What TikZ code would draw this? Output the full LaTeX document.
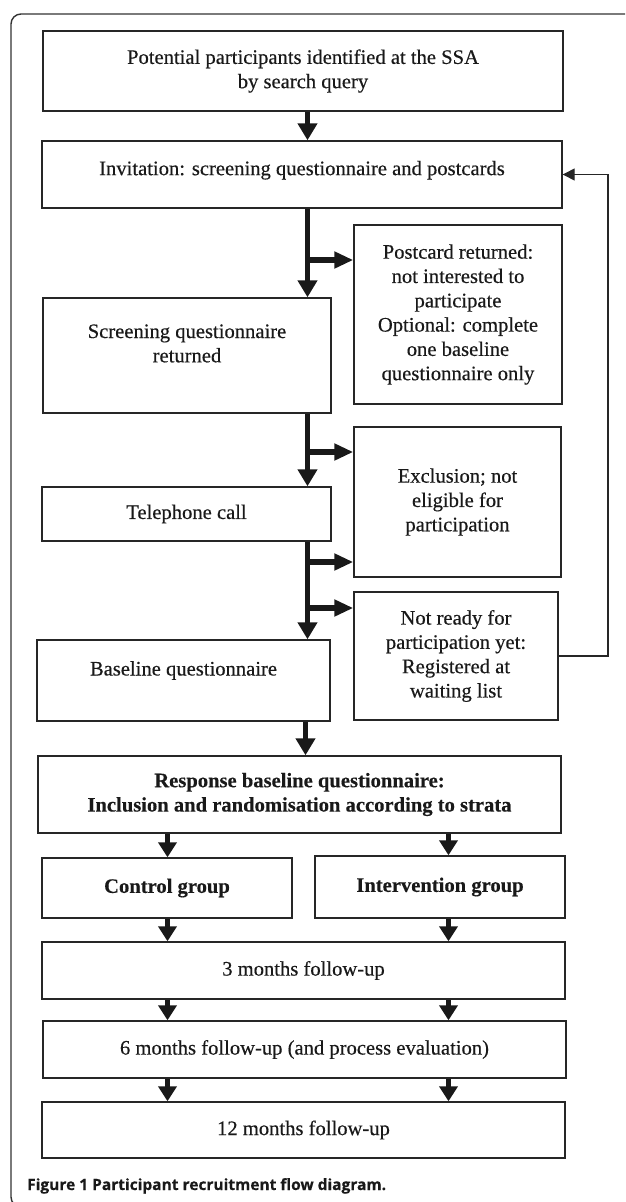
\documentclass[tikz,border=0pt]{standalone}
\usepackage{fontspec}
\setmainfont{Liberation Serif}[UprightFeatures={FakeBold=0.4},BoldFeatures={FakeBold=0.3}]
\newfontfamily\capfont{Open Sans}[BoldFeatures={FakeBold=0.4}]
\usetikzlibrary{arrows.meta}
\begin{document}
\begin{tikzpicture}[x=1pt,y=-1pt,
  box/.style={draw=black!85, line width=1.4pt, align=center, inner sep=0pt,
    font=\fontsize{20.6}{24.3}\selectfont, text=black!90},
  bbox/.style={box, font=\fontsize{20.6}{24.3}\selectfont\bfseries},
  bigarrow/.style={draw=black!90, line width=5.5pt, -{Triangle[width=19pt,length=17pt]}},
  sidearrow/.style={draw=black!90, line width=5.5pt, -{Triangle[width=16pt,length=19pt]}},
  smallarrow/.style={draw=black!90, line width=5.5pt, -{Triangle[width=18pt,length=15pt]}},
  backline/.style={draw=black!85, line width=1.4pt, -{Triangle[width=12pt,length=12pt]}},
  frame/.style={draw=black!80, line width=1.4pt, rounded corners=10pt}
]
\useasboundingbox (0,0) rectangle (625,1202);
\begin{scope}
\clip (0,0) rectangle (625,1202);
\draw[frame] (11,14) rectangle (660,1207);
\end{scope}

\coordinate (sp) at (307.5,0);
\coordinate (sq) at (305.5,0);
\coordinate (cl) at (167.5,0);
\coordinate (cr) at (448.5,0);

\node[box, minimum width=520pt, minimum height=80pt] (b1) at (303,71)
  {Potential participants identified at the SSA\\by search query};
\node[box, minimum width=520pt, minimum height=67pt, text depth=13pt] (inv) at (302,174.5)
  {Invitation: screening questionnaire and postcards};
\node[box, minimum width=208pt, minimum height=179pt] (post) at (458,314.5)
  {Postcard returned:\\not interested to\\participate\\Optional: complete\\one baseline\\questionnaire only};
\node[box, minimum width=288pt, minimum height=115pt] (scr) at (187,355.5)
  {Screening questionnaire\\returned\\\mbox{}};
\node[box, minimum width=207pt, minimum height=150pt] (excl) at (457.5,502)
  {Exclusion; not\\eligible for\\participation};
\node[box, minimum width=289pt, minimum height=54pt] (tel) at (186.5,514)
  {Telephone call};
\node[box, minimum width=204pt, minimum height=128pt] (nr) at (456,656)
  {Not ready for\\participation yet:\\Registered at\\waiting list};
\node[box, minimum width=293pt, minimum height=81pt] (base) at (183.5,680.5)
  {Baseline questionnaire\\\mbox{}};
\node[bbox, minimum width=523pt, minimum height=77pt] (resp) at (299.5,794.5)
  {Response baseline questionnaire:\\Inclusion and randomisation according to strata};
\node[bbox, minimum width=250pt, minimum height=60pt] (ctrl) at (167,888)
  {Control group};
\node[bbox, minimum width=250pt, minimum height=62pt] (intv) at (440,887)
  {Intervention group};
\node[box, minimum width=523pt, minimum height=57pt] (m3) at (303.5,970.5)
  {3 months follow-up};
\node[box, minimum width=523pt, minimum height=57pt] (m6) at (304.5,1049.5)
  {6 months follow-up (and process evaluation)};
\node[box, minimum width=523pt, minimum height=56pt] (m12) at (303.5,1130)
  {12 months follow-up};

\node[anchor=base west, inner sep=0pt, text=black!90, font=\capfont\bfseries\fontsize{15.5}{18}\selectfont] (cap) at (27,1190)
  {Figure 1 Participant recruitment flow diagram.};

% spine arrows
\draw[bigarrow] (b1.south -| sp) -- (inv.north -| sp);
\draw[bigarrow] (inv.south -| sp) -- (scr.north -| sp);
\draw[bigarrow] (scr.south -| sp) -- (tel.north -| sp);
\draw[bigarrow] (tel.south -| sp) -- (base.north -| sp);
\draw[bigarrow] (base.south -| sq) -- (resp.north -| sq);

% side branches
\coordinate (br1) at (307.5,260);
\coordinate (br2) at (307.5,452);
\coordinate (br3) at (307.5,562);
\coordinate (br4) at (307.5,608);
\draw[sidearrow] (br1) -- (br1 -| post.west);
\draw[sidearrow] (br2) -- (br2 -| excl.west);
\draw[sidearrow] (br3) -- (br3 -| excl.west);
\draw[sidearrow] (br4) -- (br4 -| nr.west);

% feedback
\coordinate (fb) at (608,0);
\draw[backline] (nr.east) -- (nr.east -| fb) -- (inv.east -| fb) -- (inv.east);

% lower arrows
\draw[smallarrow] (resp.south -| cl) -- (ctrl.north -| cl);
\draw[smallarrow] (resp.south -| cr) -- (intv.north -| cr);
\draw[smallarrow] (ctrl.south -| cl) -- (m3.north -| cl);
\draw[smallarrow] (intv.south -| cr) -- (m3.north -| cr);
\draw[smallarrow] (m3.south -| cl) -- (m6.north -| cl);
\draw[smallarrow] (m3.south -| cr) -- (m6.north -| cr);
\draw[smallarrow] (m6.south -| cl) -- (m12.north -| cl);
\draw[smallarrow] (m6.south -| cr) -- (m12.north -| cr);
\end{tikzpicture}
\end{document}
